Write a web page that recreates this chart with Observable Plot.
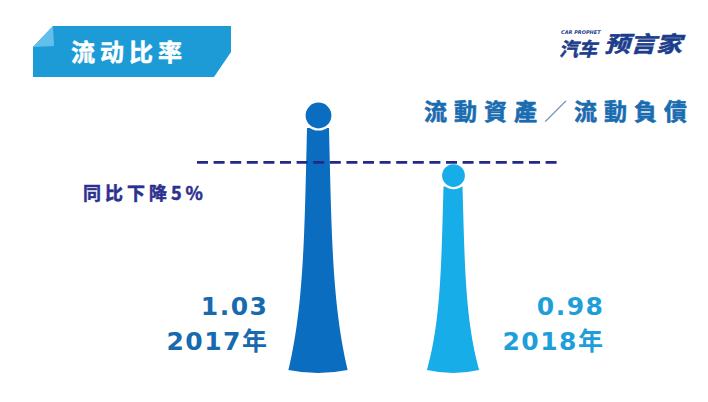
<!DOCTYPE html>
<html>
<head>
<meta charset="utf-8">
<script src="https://cdn.jsdelivr.net/npm/d3@7"></script>
<script src="https://cdn.jsdelivr.net/npm/@observablehq/plot@0.6"></script>
<style>
html, body { margin: 0; padding: 0; background: #fff; }
#wrap { position: relative; width: 708px; height: 402px; overflow: hidden; background: #fff; }
#wrap > svg.plot { position: absolute; left: 0; top: 0; }
.abs { position: absolute; white-space: nowrap; line-height: 1; }
.cjk { font-family: "Noto Sans CJK SC", "DejaVu Sans", sans-serif; font-weight: bold; }
</style>
</head>
<body>
<div id="wrap">
  <div id="chart"></div>
  <svg class="abs" style="left:0;top:0" width="240" height="85">
    <polygon points="53,26 231,26 231,52 214,77 33,77 33,47" fill="#1c9bd7"/>
    <polygon points="53,26 33,47 54,46" fill="#62bfec"/>
  </svg>
  <div class="abs cjk" style="left:71px;top:39px;font-size:24px;letter-spacing:5px;color:#fff;-webkit-text-stroke:0.5px #fff;">流动比率</div>
  <div class="abs" style="left:561px;top:30px;font-family:'DejaVu Sans';font-weight:bold;font-style:italic;font-size:5px;color:#1c3d8c;">CAR PROPHET</div>
  <div class="abs cjk" style="left:559px;top:38px;font-size:19px;font-style:italic;color:#1c3d8c;-webkit-text-stroke:0.5px #1c3d8c;">汽车</div>
  <div class="abs cjk" style="left:604px;top:32px;font-size:26px;font-style:italic;color:#1c3d8c;transform:scaleY(0.85);transform-origin:top left;-webkit-text-stroke:0.6px #1c3d8c;">预言家</div>
  <div class="abs cjk" style="left:424px;top:99px;font-size:23px;letter-spacing:7px;color:#1a6cb1;-webkit-text-stroke:0.6px #1a6cb1;">流動資產<span style="font-weight:normal;color:#5d7fa8;-webkit-text-stroke:0;">／</span>流動負債</div>
  <div class="abs cjk" style="left:83px;top:183px;font-size:18px;letter-spacing:4px;color:#2c3190;-webkit-text-stroke:0.5px #2c3190;">同比下降5%</div>
</div>
<script>
// ---- data ----
const years = ["2017年", "2018年"];
const ratios = [1.03, 0.98];
const ratioLabels = ["1.03", "0.98"];
const barBase = 0.816;      // value at the foot of the bars
const refLine = 0.991;      // dashed reference line
const barPalette = ["#0b6dc0", "#17ade9"];
const labelPalette = ["#176aae", "#1e9fd9"];

const data = years.map((year, i) => ({year, ratio: ratios[i], label: ratioLabels[i]}));

const labelFont = "DejaVu Sans, Noto Sans CJK SC, sans-serif";

function trumpets(index, scales) {
  const x = scales.x, y = scales.y, color = scales.color, r = scales.r;
  const g = d3.create("svg:g");
  data.forEach(d => {
    const cx = x(d.year);
    const rad = r(d.ratio);
    const yTop = y(d.ratio) + rad - 1;
    const yBot = y(barBase);
    const h = yBot - yTop;
    const wt = rad - 3;
    const wb = 15 + 0.06 * h;
    const hw = t => wt + (wb - wt) * (0.3 * t + 0.7 * Math.pow(t, 4));
    const N = 48;
    const p = d3.path();
    for (let i = 0; i <= N; i++) {
      const t = i / N;
      const yy = yTop + t * (h - 2);
      if (i === 0) p.moveTo(cx - hw(t), yy); else p.lineTo(cx - hw(t), yy);
    }
    p.quadraticCurveTo(cx, yBot + 4, cx + wb, yBot - 2);
    for (let i = N; i >= 0; i--) {
      const t = i / N;
      p.lineTo(cx + hw(t), yTop + t * (h - 2));
    }
    p.closePath();
    g.append("path").attr("d", p.toString()).attr("fill", color(d.year));
  });
  return g.node();
}

const chart = Plot.plot({
  width: 708,
  height: 402,
  marginLeft: 197,
  marginRight: 146,
  marginTop: 100,
  marginBottom: 30,
  x: {type: "point", domain: years, range: [318, 453], padding: 0, axis: null},
  y: {domain: [barBase, 1.03], range: [372, 115], axis: null},
  r: {type: "linear", domain: [0.98, 1.03], range: [12.5, 14]},
  color: {domain: years, range: barPalette},
  marks: [
    trumpets,
    Plot.dot(data, {x: "year", y: "ratio", r: "ratio", fill: "year", stroke: "white", strokeWidth: 2.2}),
    Plot.ruleY([refLine], {stroke: "#222a86", strokeWidth: 2.6, strokeDasharray: "11,5.6"}),
    Plot.text(data.slice(0, 1), {x: "year", y: () => barBase, text: "label", dx: -50, dy: -66, textAnchor: "end", fill: labelPalette[0], fontSize: 25, fontWeight: "bold", fontFamily: labelFont}),
    Plot.text(data.slice(0, 1), {x: "year", y: () => barBase, text: "year", dx: -50, dy: -31, textAnchor: "end", fill: labelPalette[0], fontSize: 25, fontWeight: "bold", fontFamily: labelFont}),
    Plot.text(data.slice(1), {x: "year", y: () => barBase, text: "label", dx: 151, dy: -66, textAnchor: "end", fill: labelPalette[1], fontSize: 25, fontWeight: "bold", fontFamily: labelFont}),
    Plot.text(data.slice(1), {x: "year", y: () => barBase, text: "year", dx: 151, dy: -31, textAnchor: "end", fill: labelPalette[1], fontSize: 25, fontWeight: "bold", fontFamily: labelFont})
  ]
});
chart.classList.add("plot");
d3.select(chart).selectAll("text").style("letter-spacing", "1.5px");
const wrap = document.getElementById("wrap");
wrap.insertBefore(chart, wrap.firstChild);
document.getElementById("chart").remove();
</script>
</body>
</html>
